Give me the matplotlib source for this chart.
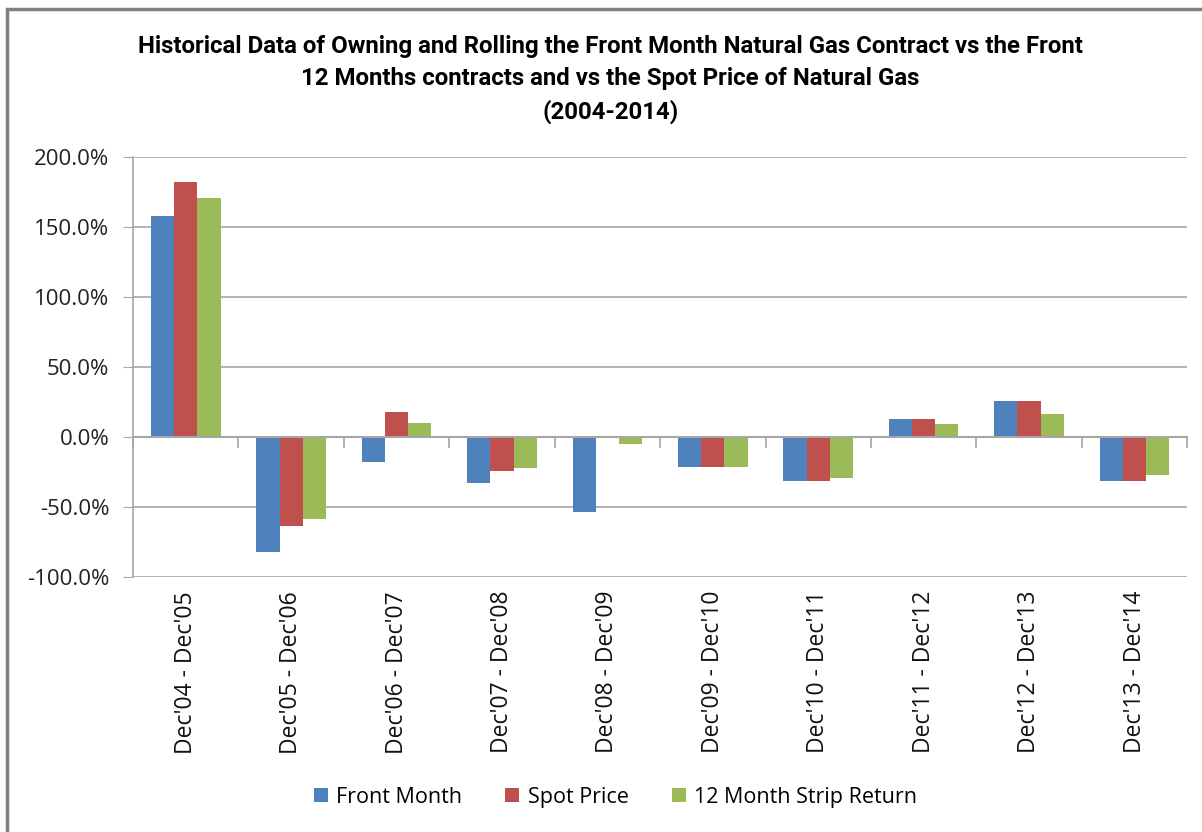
import matplotlib

matplotlib.use("Agg")
import matplotlib.pyplot as plt
import numpy as np
from matplotlib.patches import Rectangle
from matplotlib.ticker import FuncFormatter, FixedLocator

periods = ["Dec'04 - Dec'05", "Dec'05 - Dec'06", "Dec'06 - Dec'07", "Dec'07 - Dec'08",
           "Dec'08 - Dec'09", "Dec'09 - Dec'10", "Dec'10 - Dec'11", "Dec'11 - Dec'12",
           "Dec'12 - Dec'13", "Dec'13 - Dec'14"]
front_month = [157.6, -82.4, -17.6, -32.6, -53.8, -21.2, -31.6, 12.6, 26.0, -31.6]
spot_price = [182.4, -63.8, 18.1, -24.5, 0.0, -21.2, -31.6, 12.6, 26.0, -31.6]
strip_return = [170.9, -58.6, 10.0, -21.9, -5.0, -21.2, -29.0, 9.0, 16.2, -27.2]

BLUE = "#4F81BD"
RED = "#C0504D"
GREEN = "#9BBB59"
GRID = "#A6A6A6"

plt.rcParams["font.family"] = ["Open Sans", "DejaVu Sans"]

fig = plt.figure(figsize=(12.02, 8.32), dpi=100)
ax = fig.add_axes([0.1107, 0.3065, 0.8770, 0.5048])

x = np.arange(len(periods))
w = 0.22
ax.bar(x - w, front_month, w, color=BLUE, label="Front Month")
ax.bar(x, spot_price, w, color=RED, label="Spot Price")
ax.bar(x + w, strip_return, w, color=GREEN, label="12 Month Strip Return")

ax.set_xlim(-0.5, len(periods) - 0.5)
ax.set_ylim(-100, 200)
ax.set_yticks(np.arange(-100, 201, 50))
ax.yaxis.set_major_formatter(FuncFormatter(lambda v, _: f"{v:.1f}%"))
ax.tick_params(axis="y", labelsize=16, length=7, color=GRID, colors="#222222", pad=10)
ax.yaxis.grid(True, color=GRID, lw=1.2)
ax.set_axisbelow(True)

for s in ("top", "right"):
    ax.spines[s].set_visible(False)
ax.spines["left"].set_color(GRID)
ax.spines["left"].set_linewidth(1.2)
ax.spines["bottom"].set_position(("data", 0))
ax.spines["bottom"].set_color(GRID)
ax.spines["bottom"].set_linewidth(1.5)
ax.set_zorder(1)

# category boundary ticks on the zero line
ax.xaxis.set_major_locator(FixedLocator(np.arange(-0.5, len(periods), 1.0)))
ax.tick_params(axis="x", length=8, width=1.2, color=GRID, labelbottom=False)

# category labels below the plot area
sec = ax.secondary_xaxis("bottom")
sec.set_xticks(x)
sec.set_xticklabels(periods, rotation=90, fontsize=16.5, color="#111111")
sec.tick_params(length=0, pad=10)
sec.spines["bottom"].set_visible(False)

title = ("Historical Data of Owning and Rolling the Front Month Natural Gas Contract vs the Front\n"
         "12 Months contracts and vs the Spot Price of Natural Gas\n"
         "(2004-2014)")
fig.text(0.508, 0.905, title, ha="center", va="center", fontsize=17.3, fontweight="bold",
         family=["Roboto", "DejaVu Sans"], linespacing=1.5)

fig.legend(loc="center", bbox_to_anchor=(0.512, 0.042), ncol=3, frameon=False,
           fontsize=15.5, handlelength=0.65, handleheight=0.65, handletextpad=0.4,
           columnspacing=2.0)

fig.patches.append(Rectangle((0.006, -0.01), 1.1, 0.999, transform=fig.transFigure,
                             fill=False, edgecolor="#7F7F7F", lw=2.5))

fig.savefig("out.png", dpi=100)
